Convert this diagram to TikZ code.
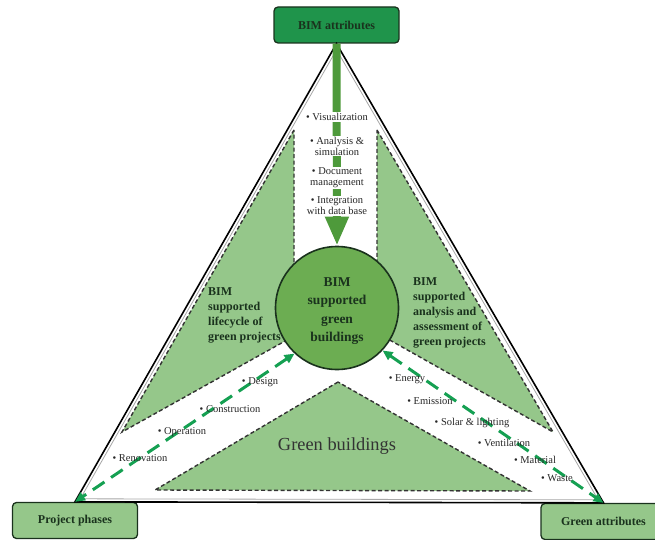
\documentclass[tikz,border=0pt]{standalone}
\usepackage{fontspec}
\setmainfont{Liberation Serif}
\usetikzlibrary{arrows.meta,calc}
\definecolor{boxdark}{HTML}{1F944B}
\definecolor{regiongreen}{HTML}{95C78A}
\definecolor{coregreen}{HTML}{6CAD52}
\definecolor{arrowolive}{HTML}{4E9A3B}
\definecolor{arrowteal}{HTML}{15A052}
\definecolor{edgedark}{HTML}{1A321D}
\begin{document}
\begin{tikzpicture}[x=1pt,y=-1pt,
  region/.style={fill=regiongreen, draw=black!80, line width=1.4pt, dash pattern=on 4pt off 2.5pt},
  headbox/.style={draw=edgedark, line width=1.3pt, rounded corners=4pt, minimum width=125pt, minimum height=36pt, text=edgedark, font=\fontsize{12}{14}\selectfont\bfseries},
  item/.style={font=\fontsize{10.5}{11}\selectfont, text=black!85, inner sep=1pt},
  regionlabel/.style={align=left, inner sep=0pt, text=edgedark, font=\fontsize{12}{15}\selectfont\bfseries},
  phasearrow/.style={arrowteal, line width=3pt, dash pattern=on 14pt off 8pt, {Triangle[length=10pt,width=9pt]}-{Triangle[length=10pt,width=9pt]}}]
\useasboundingbox (0,0) rectangle (655,540);
\clip (0,0) rectangle (655,540);
% green regions
\draw[region] (294,130) -- (122,432) -- (330,316) -- (294,300) -- cycle;
\draw[region] (377,130) -- (553,432) -- (340,312) -- (377,300) -- cycle;
\draw[region] (338,382) -- (155,490) -- (530,491) -- cycle;
% corner boxes
\node[headbox, fill=boxdark] (bimattr) at (336.5,25) {BIM attributes};
\node[headbox, fill=regiongreen] (phases) at (75,520.5) {Project phases};
\node[headbox, fill=regiongreen] (gattrib) at (603.5,521.5) {Green attributes};
% outer triangle with its inner shade line
\coordinate (mid) at (338,350);
\draw[gray!70, line width=0.8pt] ($(mid)!0.98!(bimattr.south)$) -- ($(mid)!0.98!(phases.north)$) -- ($(mid)!0.98!(gattrib.north)$) -- cycle;
\draw[line width=1.6pt] (bimattr.south) -- (phases.north) -- (gattrib.north) -- cycle;
% centre
\node[circle, draw=edgedark, line width=1.6pt, fill=coregreen, minimum size=123pt, align=center, text=edgedark, font=\fontsize{13.5}{18.3}\selectfont\bfseries] (core) at (337,308) {};
\node[align=center, text=edgedark, font=\fontsize{13.5}{18.3}\selectfont\bfseries] (coretext) at (337,311) {BIM\\supported\\green\\buildings};
% BIM attributes arrow
\draw[arrowolive, line width=8pt, -{Triangle[length=29pt,width=22pt]}] (bimattr.south) -- (core.north);
\node[item, fill=white, align=center] (vis) at (337,117) {\textbullet\ Visualization};
\node[item, fill=white, align=center] (ana) at (337,146) {\textbullet\ Analysis \&\\ simulation};
\node[item, fill=white, align=center] (doc) at (337,178) {\textbullet\ Document\\management};
\node[item, fill=white, align=center] (integ) at (337,206) {\textbullet\ Integration\\with data base};
% project phases arrow
\draw[phasearrow] (core.227) -- (phases.north);
\node[item] (design) at (260,382) {\textbullet\ Design};
\node[item] (constr) at (230,409) {\textbullet\ Construction};
\node[item] (oper) at (182,432) {\textbullet\ Operation};
\node[item] (renov) at (140,458) {\textbullet\ Renovation};
% green attributes arrow
\draw[phasearrow] (core.317) -- (gattrib.north);
\node[item] (energy) at (407,379) {\textbullet\ Energy};
\node[item] (emis) at (430,401) {\textbullet\ Emission};
\node[item] (solar) at (472,423) {\textbullet\ Solar \& lighting};
\node[item] (vent) at (504,443) {\textbullet\ Ventilation};
\node[item] (mater) at (535,460) {\textbullet\ Material};
\node[item] (waste) at (557,478) {\textbullet\ Waste};
% region labels
\node[regionlabel] (lifelabel) at (244.5,315) {BIM\\supported\\lifecycle of\\green projects};
\node[regionlabel] (assesslabel) at (449.5,312.5) {BIM\\supported\\analysis and\\assessment of\\green projects};
\node[font=\fontsize{18.4}{20}\selectfont, text=black!80] (gbtext) at (337,446) {Green buildings};
\end{tikzpicture}
\end{document}
